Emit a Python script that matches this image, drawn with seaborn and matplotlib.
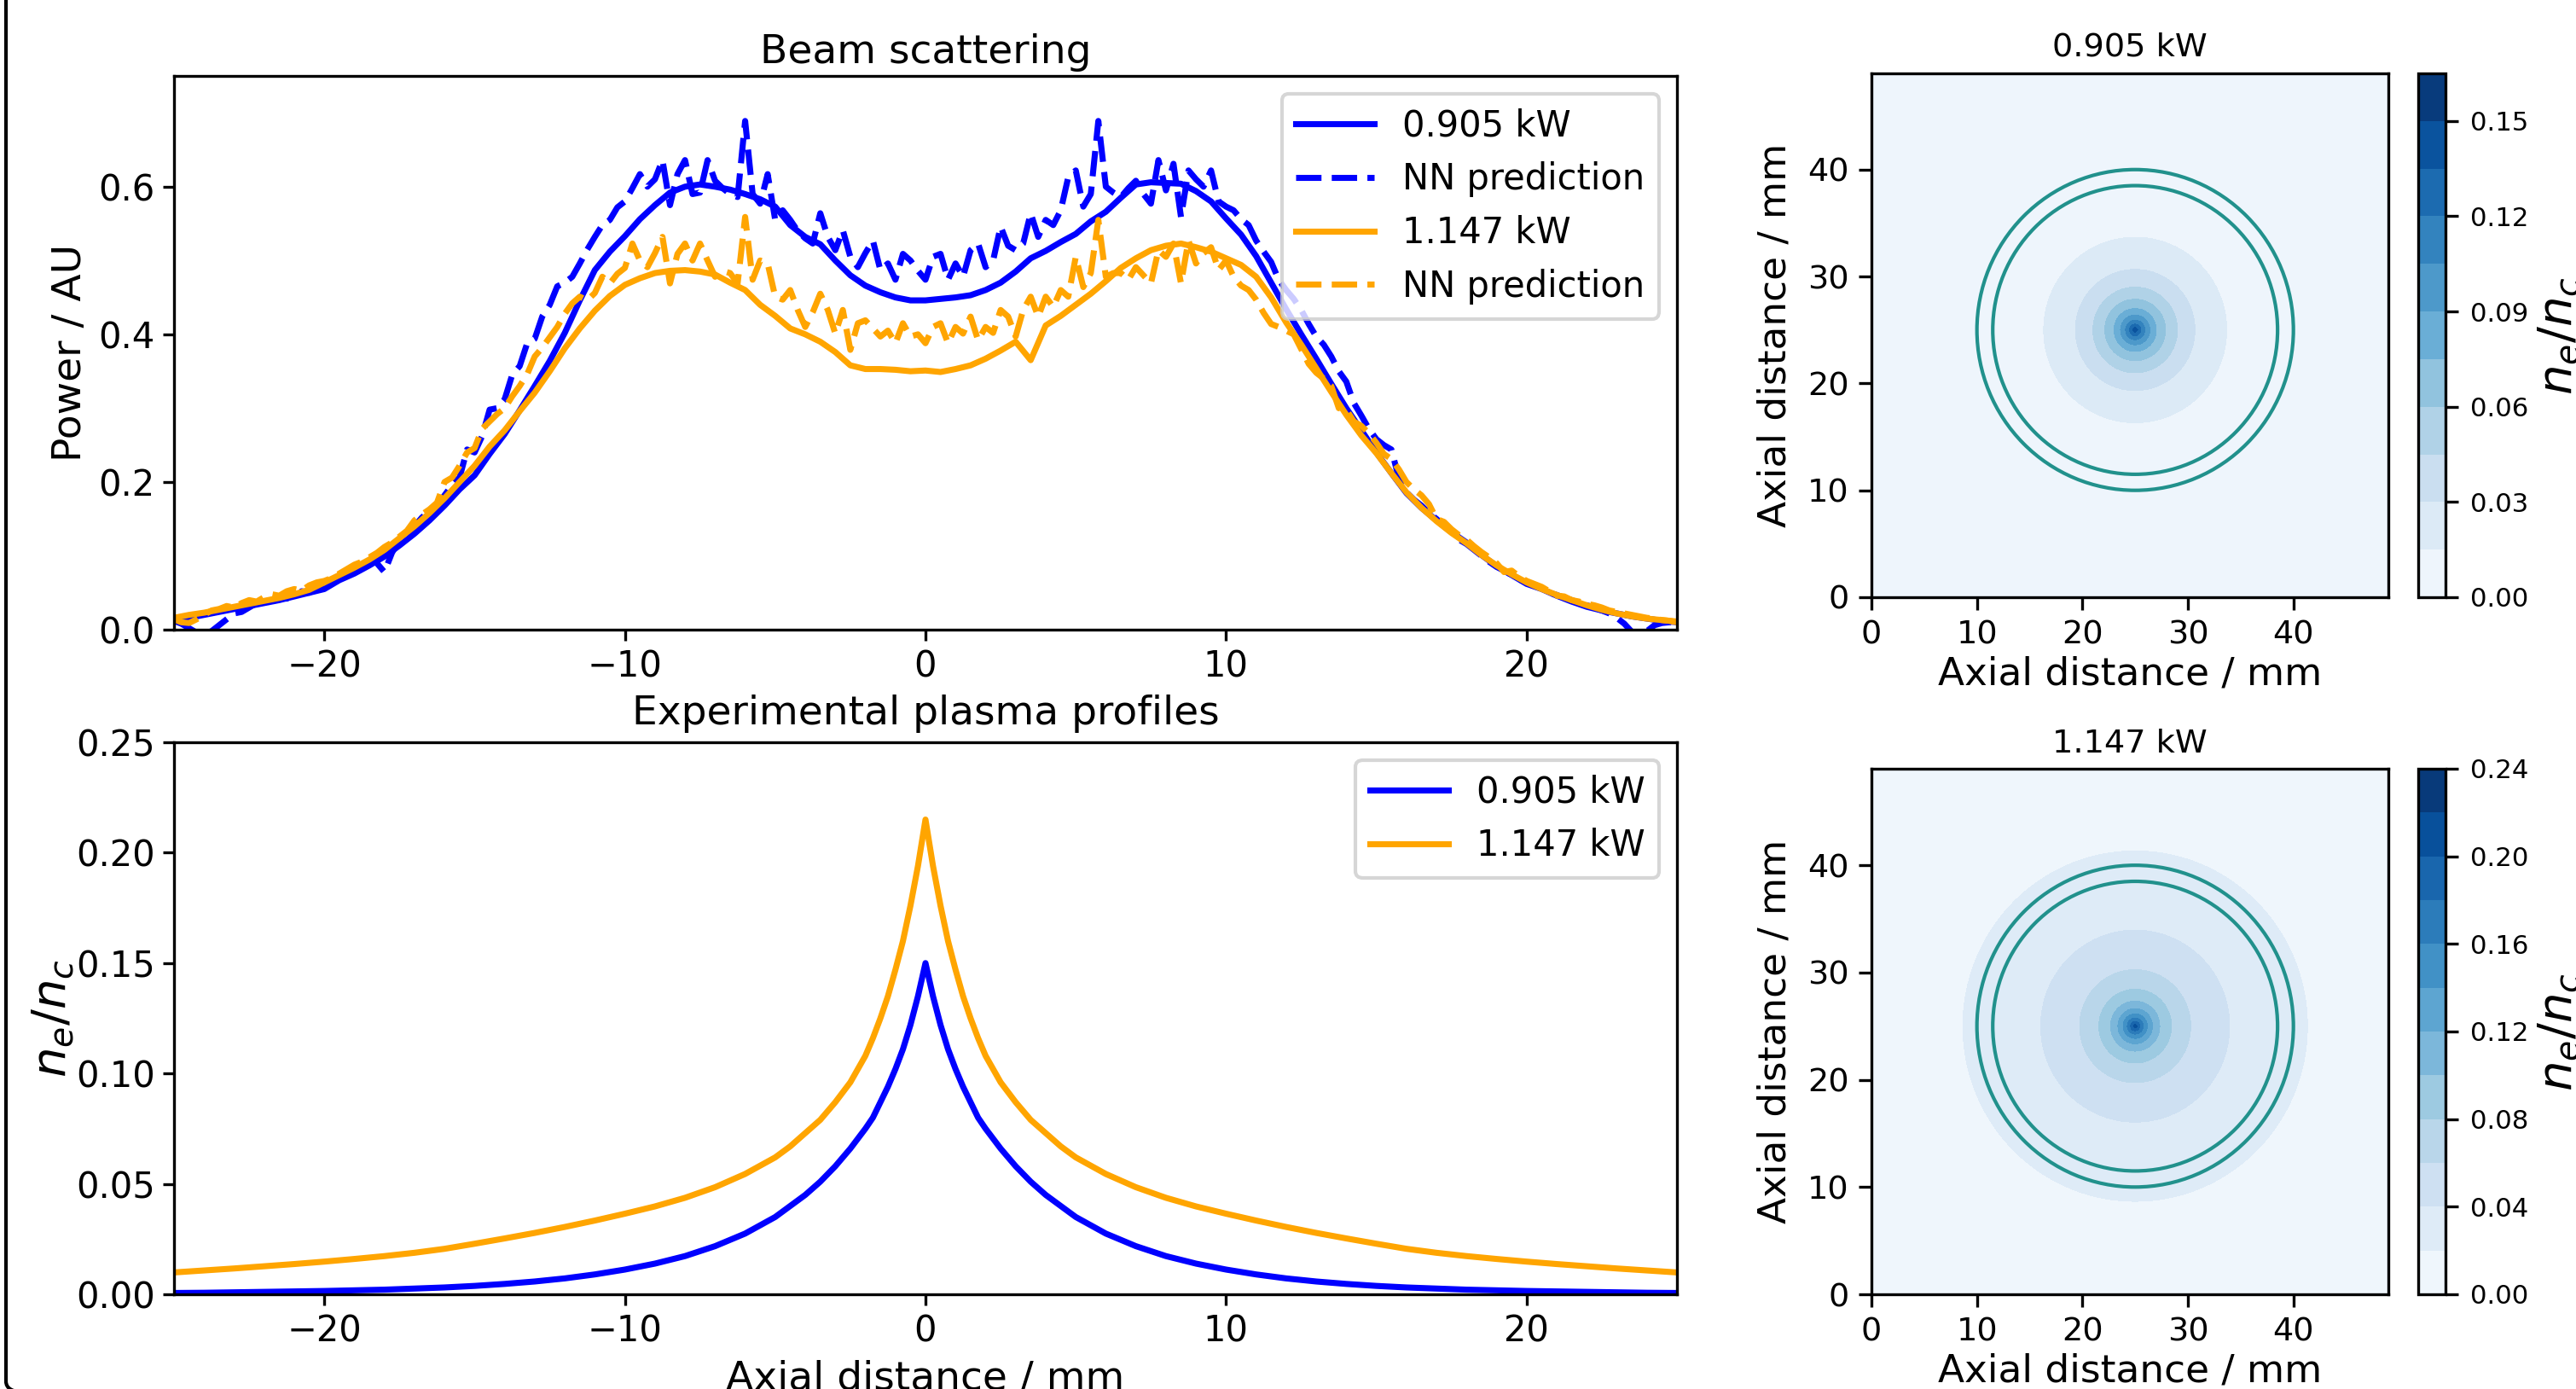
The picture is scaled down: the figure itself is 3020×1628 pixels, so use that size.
import numpy as np
import matplotlib
matplotlib.use("Agg")
import matplotlib.pyplot as plt
import seaborn as sns
from matplotlib.patches import Circle, FancyBboxPatch

# ---------------------------------------------------------------------------
# Beam scattering profiles (power, arbitrary units) across the axial line
# ---------------------------------------------------------------------------
axial_coarse_mm = np.linspace(-25, 25, 101)   # measured profiles, 0.5 mm step
axial_fine_mm = np.linspace(-25, 25, 201)     # network output, 0.25 mm step

power_0905 = [
    0.012, 0.016, 0.020, 0.024, 0.028, 0.032, 0.036, 0.040, 0.045, 0.050,
    0.055, 0.067, 0.076, 0.087, 0.099, 0.114, 0.130, 0.148, 0.168, 0.190,
    0.209, 0.238, 0.265, 0.297, 0.330, 0.364, 0.402, 0.446, 0.487, 0.512,
    0.533, 0.556, 0.575, 0.592, 0.600, 0.603, 0.600, 0.596, 0.590, 0.583,
    0.573, 0.548, 0.532, 0.522, 0.500, 0.480, 0.466, 0.457, 0.450, 0.446,
    0.446, 0.448, 0.450, 0.453, 0.460, 0.470, 0.485, 0.503, 0.513, 0.525,
    0.536, 0.553, 0.566, 0.585, 0.603, 0.606, 0.605, 0.604, 0.594, 0.580,
    0.557, 0.535, 0.506, 0.470, 0.434, 0.400, 0.367, 0.333, 0.300, 0.270,
    0.240, 0.212, 0.185, 0.165, 0.148, 0.132, 0.118, 0.101, 0.086, 0.074,
    0.062, 0.055, 0.046, 0.038, 0.031, 0.026, 0.022, 0.018, 0.015, 0.012,
    0.010,
]

power_1147 = [
    0.016, 0.020, 0.023, 0.027, 0.031, 0.035, 0.039, 0.043, 0.048, 0.054,
    0.064, 0.074, 0.084, 0.095, 0.108, 0.124, 0.140, 0.158, 0.178, 0.200,
    0.222, 0.248, 0.270, 0.296, 0.321, 0.350, 0.381, 0.408, 0.432, 0.452,
    0.467, 0.476, 0.483, 0.486, 0.487, 0.485, 0.481, 0.470, 0.460, 0.440,
    0.425, 0.408, 0.400, 0.390, 0.376, 0.358, 0.353, 0.353, 0.352, 0.350,
    0.351, 0.349, 0.353, 0.358, 0.367, 0.378, 0.390, 0.365, 0.412, 0.425,
    0.440, 0.455, 0.472, 0.490, 0.503, 0.514, 0.520, 0.523, 0.518, 0.512,
    0.503, 0.494, 0.478, 0.450, 0.416, 0.386, 0.354, 0.322, 0.291, 0.263,
    0.239, 0.212, 0.186, 0.165, 0.147, 0.131, 0.117, 0.101, 0.087, 0.075,
    0.064, 0.055, 0.047, 0.040, 0.033, 0.027, 0.022, 0.018, 0.015, 0.013,
    0.011,
]

nn_0905 = [
    0.012, 0.008, 0.002, -0.004, -0.006, -0.002, 0.006, 0.014, 0.022, 0.024,
    0.030, 0.036, 0.034, 0.040, 0.044, 0.042, 0.048, 0.052, 0.050, 0.056,
    0.058, 0.066, 0.070, 0.078, 0.082, 0.088, 0.094, 0.090, 0.078, 0.104,
    0.122, 0.128, 0.140, 0.152, 0.160, 0.168, 0.182, 0.196, 0.206, 0.244,
    0.240, 0.262, 0.298, 0.300, 0.312, 0.345, 0.357, 0.388, 0.394, 0.424,
    0.440, 0.465, 0.470, 0.478, 0.496, 0.515, 0.532, 0.548, 0.555, 0.572,
    0.580, 0.598, 0.617, 0.600, 0.610, 0.636, 0.575, 0.617, 0.636, 0.590,
    0.592, 0.636, 0.608, 0.598, 0.590, 0.586, 0.689, 0.590, 0.577, 0.617,
    0.555, 0.568, 0.555, 0.540, 0.530, 0.523, 0.564, 0.532, 0.514, 0.541,
    0.505, 0.491, 0.510, 0.527, 0.487, 0.496, 0.474, 0.509, 0.500, 0.486,
    0.474, 0.505, 0.509, 0.474, 0.496, 0.478, 0.514, 0.523, 0.491, 0.500,
    0.546, 0.520, 0.514, 0.523, 0.564, 0.532, 0.555, 0.548, 0.568, 0.613,
    0.622, 0.573, 0.590, 0.689, 0.600, 0.592, 0.586, 0.598, 0.608, 0.590,
    0.577, 0.636, 0.595, 0.631, 0.559, 0.622, 0.610, 0.600, 0.622, 0.580,
    0.573, 0.568, 0.556, 0.548, 0.527, 0.512, 0.498, 0.474, 0.460, 0.448,
    0.433, 0.414, 0.397, 0.386, 0.370, 0.350, 0.336, 0.307, 0.290, 0.272,
    0.258, 0.250, 0.244, 0.205, 0.186, 0.176, 0.168, 0.158, 0.150, 0.140,
    0.134, 0.122, 0.116, 0.108, 0.100, 0.092, 0.085, 0.080, 0.074, 0.068,
    0.064, 0.060, 0.056, 0.050, 0.047, 0.043, 0.040, 0.036, 0.033, 0.030,
    0.026, 0.022, 0.016, 0.008, -0.003, -0.006, -0.002, 0.006, 0.009, 0.010,
    0.010,
]

nn_1147 = [
    0.014, 0.010, 0.009, 0.014, 0.020, 0.026, 0.028, 0.032, 0.030, 0.036,
    0.040, 0.038, 0.044, 0.048, 0.046, 0.052, 0.055, 0.053, 0.060, 0.064,
    0.066, 0.070, 0.076, 0.082, 0.088, 0.092, 0.098, 0.104, 0.112, 0.118,
    0.126, 0.134, 0.148, 0.156, 0.163, 0.172, 0.200, 0.206, 0.222, 0.240,
    0.246, 0.272, 0.282, 0.292, 0.300, 0.316, 0.330, 0.346, 0.370, 0.382,
    0.396, 0.410, 0.428, 0.442, 0.451, 0.446, 0.456, 0.478, 0.469, 0.482,
    0.490, 0.523, 0.500, 0.491, 0.510, 0.532, 0.469, 0.509, 0.523, 0.500,
    0.523, 0.500, 0.478, 0.486, 0.483, 0.469, 0.559, 0.474, 0.500, 0.496,
    0.451, 0.447, 0.460, 0.433, 0.410, 0.430, 0.455, 0.433, 0.401, 0.433,
    0.379, 0.415, 0.419, 0.408, 0.397, 0.405, 0.388, 0.415, 0.397, 0.400,
    0.388, 0.410, 0.415, 0.388, 0.410, 0.401, 0.424, 0.392, 0.410, 0.402,
    0.433, 0.424, 0.397, 0.433, 0.451, 0.424, 0.451, 0.437, 0.460, 0.451,
    0.505, 0.464, 0.483, 0.555, 0.478, 0.483, 0.483, 0.474, 0.491, 0.480,
    0.469, 0.514, 0.505, 0.523, 0.469, 0.527, 0.496, 0.510, 0.518, 0.487,
    0.500, 0.478, 0.466, 0.460, 0.447, 0.429, 0.414, 0.410, 0.405, 0.400,
    0.380, 0.360, 0.348, 0.340, 0.330, 0.300, 0.298, 0.282, 0.276, 0.266,
    0.253, 0.238, 0.231, 0.217, 0.200, 0.190, 0.182, 0.170, 0.150, 0.146,
    0.136, 0.128, 0.122, 0.113, 0.105, 0.098, 0.090, 0.078, 0.080, 0.072,
    0.066, 0.062, 0.058, 0.052, 0.046, 0.045, 0.040, 0.038, 0.035, 0.033,
    0.030, 0.026, 0.024, 0.022, 0.020, 0.018, 0.016, 0.015, 0.013, 0.012,
    0.010,
]

# ---------------------------------------------------------------------------
# Experimental plasma density profiles n_e/n_c versus radius
# ---------------------------------------------------------------------------
radius_mm = [0, 0.25, 0.5, 0.75, 1, 1.25, 1.5, 1.75, 2, 2.5, 3, 3.5, 4, 4.5,
             5, 6, 7, 8, 9, 10, 11, 12, 13, 14, 15, 16, 17, 18, 19, 20, 21,
             22, 23, 24, 25, 36]
ne_0905 = [0.150, 0.135, 0.122, 0.111, 0.102, 0.094, 0.087, 0.080, 0.075,
           0.066, 0.058, 0.051, 0.045, 0.040, 0.035, 0.0275, 0.0218, 0.0173,
           0.0139, 0.0112, 0.0090, 0.0072, 0.0058, 0.0047, 0.0038, 0.0031,
           0.0026, 0.0021, 0.0018, 0.0015, 0.0013, 0.0011, 0.0009, 0.0007,
           0.0006, 0.0002]
ne_1147 = [0.215, 0.194, 0.176, 0.160, 0.147, 0.135, 0.125, 0.116, 0.108,
           0.096, 0.087, 0.079, 0.073, 0.067, 0.062, 0.0545, 0.0485, 0.0437,
           0.0398, 0.0365, 0.0334, 0.0305, 0.0278, 0.0253, 0.0229, 0.0206,
           0.0188, 0.0173, 0.0160, 0.0148, 0.0137, 0.0127, 0.0117, 0.0108,
           0.0099, 0.004]

ring_radii_mm = [13.5, 15.0]
ring_centre_mm = (25.0, 25.0)

labels = ["0.905 kW", "1.147 kW"]
colors = ["blue", "orange"]

# ---------------------------------------------------------------------------
plt.rcParams.update({
    "font.family": ["DejaVu Sans"],
    "lines.linewidth": 1.7,
    "lines.dashed_pattern": [4.2, 1.7],
    "legend.fontsize": 10,
    "legend.handlelength": 2.2,
})

W, H, DPI = 3020, 1628, 300
fig = plt.figure(figsize=(W / DPI, H / DPI), dpi=DPI)


def box(left, top, right, bottom):
    return [left / W, 1 - bottom / H, (right - left) / W, (bottom - top) / H]


ax_top = fig.add_axes(box(204, 89, 1966, 738))
ax_bot = fig.add_axes(box(204, 870, 1966, 1517))
ax_m1 = fig.add_axes(box(2194, 86, 2800, 700))
cax1 = fig.add_axes(box(2835, 86, 2867, 700))
ax_m2 = fig.add_axes(box(2194, 901, 2800, 1517))
cax2 = fig.add_axes(box(2835, 901, 2867, 1517))

# --- beam scattering -------------------------------------------------------
sns.lineplot(x=axial_coarse_mm, y=power_0905, color=colors[0], label=labels[0], ax=ax_top)
sns.lineplot(x=axial_fine_mm, y=nn_0905, color=colors[0], linestyle="--",
             label="NN prediction", ax=ax_top)
sns.lineplot(x=axial_coarse_mm, y=power_1147, color=colors[1], label=labels[1], ax=ax_top)
sns.lineplot(x=axial_fine_mm, y=nn_1147, color=colors[1], linestyle="--",
             label="NN prediction", ax=ax_top)
ax_top.set_xlim(-25, 25)
ax_top.set_ylim(0, 0.75)
ax_top.set_yticks([0.0, 0.2, 0.4, 0.6])
ax_top.set_title("Beam scattering", fontsize=11.3, pad=3.6)
ax_top.set_ylabel("Power / AU", fontsize=11.3, labelpad=2.4)
ax_top.set_xlabel("")
ax_top.tick_params(labelsize=10, length=3.2, pad=2.2)
ax_top.legend(loc="upper right")

# --- density profiles ------------------------------------------------------
r = np.asarray(radius_mm)[:-1]
axial_profile = np.concatenate([-r[::-1], r[1:]])
for vals, lab, col in zip([ne_0905, ne_1147], labels, colors):
    v = np.asarray(vals)[:-1]
    sns.lineplot(x=axial_profile, y=np.concatenate([v[::-1], v[1:]]),
                 color=col, label=lab, ax=ax_bot)
ax_bot.set_xlim(-25, 25)
ax_bot.set_ylim(0, 0.25)
ax_bot.set_yticks(np.arange(0, 0.251, 0.05))
ax_bot.yaxis.set_major_formatter(matplotlib.ticker.FormatStrFormatter("%.2f"))
ax_bot.set_title("Experimental plasma profiles", fontsize=11.3, pad=5.0)
ax_bot.set_xlabel("Axial distance / mm", fontsize=11.3, labelpad=3.0)
ax_bot.set_ylabel(r"$n_e/n_c$", fontsize=13.5, labelpad=0.0)
ax_bot.tick_params(labelsize=10, length=3.2, pad=2.2)
ax_bot.legend(loc="upper right")

# --- 2-D density maps (radial revolution of the profiles) -------------------
grid = np.arange(0, 49.001, 0.25)
GX, GY = np.meshgrid(grid, grid)
R = np.hypot(GX - ring_centre_mm[0], GY - ring_centre_mm[1])

map_specs = [
    (ax_m1, cax1, ne_0905, np.arange(0, 0.1651, 0.015), np.arange(0, 0.151, 0.03), 5.0),
    (ax_m2, cax2, ne_1147, np.arange(0, 0.2401, 0.02), np.arange(0, 0.241, 0.04), 4.5),
]
for (ax, cax, prof, levels, ticks, tpad), lab in zip(map_specs, labels):
    field = np.interp(R, radius_mm, prof)
    cs = ax.contourf(GX, GY, field, levels=levels, cmap="Blues")
    for rr in ring_radii_mm:
        ax.add_patch(Circle(ring_centre_mm, rr, fill=False, edgecolor="#21918c", lw=1.0))
    ax.set_xlim(0, 49)
    ax.set_ylim(0, 49)
    ax.set_xticks([0, 10, 20, 30, 40])
    ax.set_yticks([0, 10, 20, 30, 40])
    ax.tick_params(labelsize=9.2, pad=2.8)
    ax.set_title(lab, fontsize=9.2, pad=tpad)
    ax.set_xlabel("Axial distance / mm", fontsize=10.9, labelpad=1.6)
    ax.set_ylabel("Axial distance / mm", fontsize=10.9)
    cb = fig.colorbar(cs, cax=cax, ticks=ticks, format="%.2f")
    cb.ax.tick_params(labelsize=7.4)
    cb.set_label(r"$n_e/n_c$", fontsize=13.5, labelpad=2.0)

# outer frame of the panel
fig.patches.append(FancyBboxPatch((7 / W, -4 / H), 1.2, 1.2,
                                  boxstyle="round,pad=0,rounding_size=0.008",
                                  transform=fig.transFigure, fill=False,
                                  edgecolor="black", lw=1.0))

fig.savefig("out.png", dpi=DPI)
